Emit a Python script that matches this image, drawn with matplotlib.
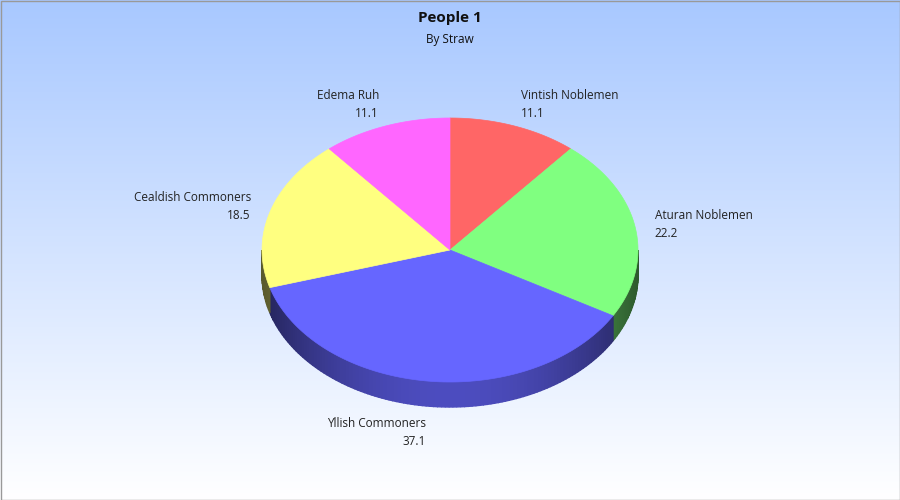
import numpy as np
import matplotlib
matplotlib.use("Agg")
import matplotlib.pyplot as plt
from matplotlib.patches import Polygon, Rectangle
import matplotlib.colors as mc

labels = ["Vintish Noblemen", "Aturan Noblemen", "Yllish Commoners", "Cealdish Commoners", "Edema Ruh"]
values = [11.1, 22.2, 37.1, 18.5, 11.1]
colors = ["#FF6666", "#80FF80", "#6666FF", "#FFFF80", "#FF66FF"]

plt.rcParams['font.family'] = ['Open Sans', 'DejaVu Sans']
fig = plt.figure(figsize=(9, 5), dpi=100)
ax = fig.add_axes([0, 0, 1, 1])
ax.set_xlim(0, 900); ax.set_ylim(500, 0); ax.axis('off')

grad = np.linspace(0, 1, 256).reshape(-1, 1)
cmap = mc.LinearSegmentedColormap.from_list("bg", ["#A8C8FF", "#FFFFFF"])
ax.imshow(grad, extent=[0, 900, 500, 0], aspect='auto', cmap=cmap, zorder=0)
ax.add_patch(Rectangle((0.5, 0.5), 899, 499, fill=False, ec="#999999", lw=1, zorder=10))

cx, cy, rx, ry, depth = 450, 250, 188, 132, 25
def pt(t, dy=0):
    return (cx + rx*np.sin(t), cy - ry*np.cos(t) + dy)

total = sum(values)
bounds = np.concatenate([[0], np.cumsum(values)/total*2*np.pi])

# side walls
for i in range(len(values)):
    a0, a1 = max(bounds[i], np.pi/2), min(bounds[i+1], 3*np.pi/2)
    if a1 <= a0:
        continue
    n = max(2, int((a1-a0)/0.02))
    ts = np.linspace(a0, a1, n)
    base = np.array(mc.to_rgb(colors[i]))
    for j in range(n-1):
        tm = (ts[j]+ts[j+1])/2
        f = 0.35 + 0.4*np.cos(tm - np.pi)**2
        c = base*f
        p = [pt(ts[j]), pt(ts[j+1]), pt(ts[j+1], depth), pt(ts[j], depth)]
        ax.add_patch(Polygon(p, closed=True, fc=c, ec=c, lw=1.0, zorder=2))

# top
for i in range(len(values)):
    ts = np.linspace(bounds[i], bounds[i+1], 100)
    p = [(cx, cy)] + [pt(t) for t in ts]
    ax.add_patch(Polygon(p, closed=True, fc=colors[i], ec=colors[i], lw=0.5, zorder=3))

# labels
for i in range(len(values)):
    tm = (bounds[i]+bounds[i+1])/2
    x = cx + (rx+20)*np.sin(tm)
    y = cy - (ry+25)*np.cos(tm) + 2
    if np.cos(tm) < 0:
        y += depth
    ha = 'left' if np.sin(tm) > 0 else 'right'
    ax.text(x, y-9, labels[i], ha=ha, va='center', fontsize=8.5, color="#222222", zorder=5)
    ax.text(x, y+9, f"{values[i]:.1f}", ha=ha, va='center', fontsize=8.5, color="#222222", zorder=5)

ax.text(450, 18, "People 1", ha='center', va='center', fontsize=11, fontweight='bold', color="#111111")
ax.text(450, 40, "By Straw", ha='center', va='center', fontsize=8.5, color="#111111")
fig.savefig("out.png", dpi=100)
